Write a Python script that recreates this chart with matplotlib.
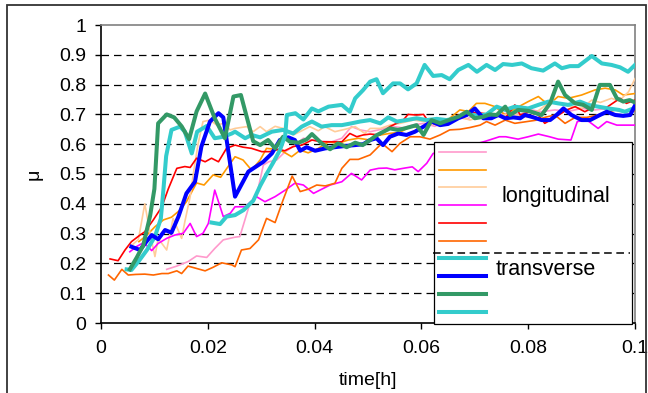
import matplotlib
matplotlib.use('Agg')
import matplotlib.pyplot as plt
from matplotlib.patches import Rectangle

plt.rcParams['font.family'] = ['Liberation Sans', 'DejaVu Sans']

# longitudinal runs (thin lines)
t_pink = [0.0123, 0.0142, 0.0163, 0.0179, 0.0198, 0.0213, 0.0229, 0.0251, 0.0260, 0.0279, 0.0291, 0.0304,
          0.0314, 0.0329, 0.0345, 0.0360, 0.0379, 0.0395, 0.0413, 0.0432, 0.0451, 0.0469, 0.0485, 0.0504,
          0.0525, 0.0545, 0.0565, 0.0585, 0.0605, 0.0625, 0.0645, 0.0665, 0.0685, 0.0705, 0.0725, 0.0745,
          0.0765, 0.0785, 0.0806, 0.0825, 0.0850, 0.0875, 0.0900, 0.0925, 0.0950, 0.0975, 0.1000]
mu_pink = [0.18, 0.191, 0.206, 0.225, 0.22, 0.25, 0.279, 0.288, 0.29, 0.402, 0.424, 0.53,
           0.541, 0.547, 0.575, 0.592, 0.62, 0.614, 0.61, 0.608, 0.62, 0.659, 0.648, 0.642,
           0.65, 0.66, 0.655, 0.665, 0.67, 0.66, 0.675, 0.69, 0.685, 0.70, 0.69, 0.70,
           0.705, 0.70, 0.715, 0.709, 0.715, 0.71, 0.72, 0.715, 0.72, 0.71, 0.715]

t_orange = [0.0071, 0.0086, 0.0101, 0.0117, 0.0132, 0.0148, 0.0160, 0.0179, 0.0193, 0.0210, 0.0224, 0.0238,
            0.0251, 0.0266, 0.0282, 0.0298, 0.0310, 0.0326, 0.0341, 0.0357, 0.0373, 0.0388, 0.0407, 0.0426,
            0.0444, 0.0463, 0.0482, 0.0504, 0.0520, 0.0540, 0.0560, 0.0580, 0.0600, 0.0620, 0.0640, 0.0655,
            0.0672, 0.0688, 0.0703, 0.0719, 0.0738, 0.0757, 0.0776, 0.0800, 0.0819, 0.0838, 0.0856, 0.0875,
            0.0900, 0.0925, 0.0944, 0.0963, 0.0978, 0.1000]
mu_orange = [0.273, 0.295, 0.323, 0.346, 0.355, 0.379, 0.407, 0.47, 0.463, 0.497, 0.489, 0.525,
             0.558, 0.547, 0.513, 0.547, 0.586, 0.583, 0.575, 0.558, 0.58, 0.571, 0.586, 0.608,
             0.603, 0.614, 0.62, 0.614, 0.63, 0.636, 0.64, 0.66, 0.655, 0.67, 0.665, 0.69,
             0.715, 0.71, 0.737, 0.737, 0.726, 0.698, 0.72, 0.743, 0.76, 0.732, 0.76, 0.754,
             0.765, 0.782, 0.788, 0.782, 0.765, 0.77]

t_peach = [0.0057, 0.0070, 0.0082, 0.0092, 0.0101, 0.0107, 0.0123, 0.0135, 0.0151, 0.0157, 0.0167, 0.0173,
           0.0182, 0.0191, 0.0204, 0.0217, 0.0229, 0.0242, 0.0251, 0.0273, 0.0285, 0.0298, 0.0310, 0.0326,
           0.0341, 0.0360, 0.0376, 0.0391, 0.0407, 0.0419, 0.0438, 0.0457, 0.0476, 0.0494, 0.0504, 0.0523,
           0.0541, 0.0560, 0.0585, 0.0610, 0.0635, 0.0655, 0.0675, 0.0691, 0.0710, 0.0730, 0.0753, 0.0775,
           0.0800, 0.0825, 0.0844, 0.0860, 0.0881, 0.0900, 0.0919, 0.0935, 0.0956, 0.0970, 0.0988, 0.1000]
mu_peach = [0.26, 0.28, 0.40, 0.30, 0.223, 0.284, 0.245, 0.351, 0.284, 0.34, 0.424, 0.502,
            0.603, 0.676, 0.681, 0.664, 0.67, 0.648, 0.653, 0.659, 0.642, 0.659, 0.642, 0.66,
            0.653, 0.631, 0.645, 0.659, 0.645, 0.659, 0.642, 0.65, 0.659, 0.636, 0.653, 0.653,
            0.664, 0.67, 0.681, 0.675, 0.67, 0.68, 0.69, 0.681, 0.692, 0.69, 0.698, 0.70,
            0.69, 0.72, 0.748, 0.735, 0.726, 0.72, 0.748, 0.74, 0.754, 0.745, 0.776, 0.82]

t_magenta = [0.0054, 0.0066, 0.0080, 0.0095, 0.0107, 0.0123, 0.0138, 0.0154, 0.0167, 0.0179, 0.0191, 0.0201,
             0.0213, 0.0229, 0.0242, 0.0251, 0.0270, 0.0291, 0.0307, 0.0326, 0.0345, 0.0363, 0.0379, 0.0398,
             0.0410, 0.0429, 0.0451, 0.0469, 0.0488, 0.0504, 0.0520, 0.0535, 0.0550, 0.0569, 0.0583, 0.0594,
             0.0610, 0.0622, 0.0640, 0.0660, 0.0680, 0.0700, 0.0720, 0.0746, 0.0758, 0.0781, 0.0800, 0.0819,
             0.0840, 0.0856, 0.0880, 0.0892, 0.0910, 0.0931, 0.0947, 0.0966, 0.0985, 0.1000]
mu_magenta = [0.239, 0.256, 0.27, 0.243, 0.267, 0.284, 0.295, 0.301, 0.334, 0.29, 0.301, 0.334,
              0.446, 0.357, 0.368, 0.39, 0.39, 0.424, 0.407, 0.424, 0.446, 0.469, 0.463, 0.435,
              0.446, 0.463, 0.474, 0.502, 0.48, 0.513, 0.519, 0.52, 0.514, 0.52, 0.524, 0.508,
              0.536, 0.569, 0.575, 0.58, 0.59, 0.60, 0.61, 0.625, 0.625, 0.617, 0.625, 0.634,
              0.625, 0.617, 0.614, 0.676, 0.681, 0.653, 0.676, 0.664, 0.664, 0.664]

t_red = [0.0017, 0.0032, 0.0045, 0.0057, 0.0073, 0.0082, 0.0098, 0.0114, 0.0126, 0.0142, 0.0157, 0.0167,
         0.0179, 0.0195, 0.0207, 0.0220, 0.0235, 0.0251, 0.0266, 0.0282, 0.0301, 0.0316, 0.0332, 0.0344,
         0.0360, 0.0376, 0.0395, 0.0413, 0.0432, 0.0451, 0.0466, 0.0479, 0.0491, 0.0504, 0.0522, 0.0541,
         0.0566, 0.0575, 0.0591, 0.0604, 0.0613, 0.0625, 0.0641, 0.0653, 0.0669, 0.0685, 0.0697, 0.0713,
         0.0728, 0.0744, 0.0757, 0.0775, 0.0785, 0.0803, 0.0819, 0.0831, 0.0850, 0.0872, 0.0888, 0.0906,
         0.0925, 0.0944, 0.0972, 0.0984, 0.1000]
mu_red = [0.215, 0.209, 0.245, 0.273, 0.295, 0.306, 0.346, 0.39, 0.45, 0.519, 0.525, 0.522,
          0.553, 0.541, 0.553, 0.541, 0.586, 0.597, 0.59, 0.586, 0.575, 0.575, 0.583, 0.578,
          0.592, 0.597, 0.614, 0.608, 0.608, 0.608, 0.636, 0.625, 0.631, 0.634, 0.631, 0.659,
          0.681, 0.70, 0.698, 0.70, 0.676, 0.668, 0.67, 0.681, 0.698, 0.698, 0.706, 0.704,
          0.70, 0.698, 0.687, 0.732, 0.698, 0.709, 0.698, 0.67, 0.69, 0.715, 0.726, 0.709,
          0.726, 0.72, 0.754, 0.737, 0.748]

t_dkorange = [0.0014, 0.0025, 0.0039, 0.0051, 0.0065, 0.0082, 0.0098, 0.0114, 0.0126, 0.0142, 0.0151, 0.0163,
              0.0179, 0.0195, 0.0210, 0.0226, 0.0245, 0.0251, 0.0263, 0.0279, 0.0295, 0.0310, 0.0326, 0.0341,
              0.0358, 0.0373, 0.0388, 0.0404, 0.0420, 0.0438, 0.0451, 0.0466, 0.0482, 0.0504, 0.0526, 0.0545,
              0.0560, 0.0579, 0.0597, 0.0616, 0.0635, 0.0653, 0.0672, 0.0691, 0.0710, 0.0722, 0.0738, 0.0757,
              0.0775, 0.0794, 0.0813, 0.0831, 0.0850, 0.0869, 0.0888, 0.0910, 0.0935, 0.0963, 0.0981, 0.1000]
mu_dkorange = [0.161, 0.144, 0.18, 0.161, 0.163, 0.164, 0.161, 0.166, 0.166, 0.175, 0.166, 0.191,
               0.183, 0.175, 0.187, 0.202, 0.195, 0.189, 0.245, 0.25, 0.279, 0.351, 0.337, 0.413,
               0.493, 0.441, 0.449, 0.463, 0.46, 0.469, 0.519, 0.549, 0.549, 0.564, 0.603, 0.575,
               0.603, 0.625, 0.625, 0.617, 0.631, 0.648, 0.65, 0.656, 0.664, 0.676, 0.664, 0.681,
               0.67, 0.675, 0.68, 0.69, 0.698, 0.67, 0.69, 0.69, 0.70, 0.715, 0.71, 0.712]

# transverse runs (thick lines)
t_turq1 = [0.0048, 0.0057, 0.0070, 0.0086, 0.0101, 0.0112, 0.0117, 0.0122, 0.0132, 0.0148, 0.0157, 0.0170,
           0.0180, 0.0198, 0.0213, 0.0229, 0.0245, 0.0251, 0.0270, 0.0282, 0.0298, 0.0320, 0.0341, 0.0360,
           0.0376, 0.0395, 0.0413, 0.0432, 0.0451, 0.0469, 0.0485, 0.0504, 0.0523, 0.0538, 0.0554, 0.0572,
           0.0591, 0.0610, 0.0629, 0.0647, 0.0666, 0.0685, 0.0704, 0.0722, 0.0741, 0.0757, 0.0775, 0.0800,
           0.0819, 0.0838, 0.0856, 0.0875, 0.0897, 0.0912, 0.0931, 0.0950, 0.0970, 0.0981, 0.0997]
mu_turq1 = [0.18, 0.178, 0.206, 0.245, 0.29, 0.35, 0.45, 0.56, 0.648, 0.659, 0.642, 0.569,
            0.642, 0.661, 0.62, 0.625, 0.636, 0.642, 0.62, 0.631, 0.623, 0.642, 0.648, 0.636,
            0.659, 0.676, 0.659, 0.664, 0.664, 0.67, 0.676, 0.681, 0.67, 0.69, 0.676, 0.681,
            0.687, 0.681, 0.685, 0.681, 0.687, 0.704, 0.695, 0.70, 0.726, 0.715, 0.726, 0.72,
            0.732, 0.743, 0.737, 0.732, 0.743, 0.732, 0.726, 0.72, 0.715, 0.709, 0.72]

t_blue = [0.0057, 0.0073, 0.0085, 0.0095, 0.0107, 0.0120, 0.0132, 0.0145, 0.0160, 0.0176, 0.0188, 0.0204,
          0.0220, 0.0229, 0.0251, 0.0276, 0.0304, 0.0320, 0.0335, 0.0351, 0.0363, 0.0373, 0.0385, 0.0401,
          0.0420, 0.0438, 0.0457, 0.0476, 0.0491, 0.0504, 0.0516, 0.0528, 0.0541, 0.0557, 0.0572, 0.0588,
          0.0604, 0.0619, 0.0635, 0.0650, 0.0669, 0.0685, 0.0700, 0.0716, 0.0731, 0.0744, 0.0757, 0.0772,
          0.0785, 0.0794, 0.0810, 0.0825, 0.0841, 0.0853, 0.0866, 0.0881, 0.0900, 0.0916, 0.0931, 0.0947,
          0.0963, 0.0978, 0.0991, 0.1000]
mu_blue = [0.256, 0.245, 0.273, 0.295, 0.281, 0.312, 0.303, 0.357, 0.435, 0.474, 0.592, 0.676,
           0.704, 0.69, 0.424, 0.508, 0.541, 0.569, 0.614, 0.623, 0.614, 0.578, 0.59, 0.578,
           0.586, 0.59, 0.594, 0.597, 0.60, 0.614, 0.62, 0.597, 0.625, 0.636, 0.631, 0.642,
           0.659, 0.676, 0.664, 0.668, 0.687, 0.698, 0.72, 0.687, 0.687, 0.698, 0.687, 0.69,
           0.687, 0.698, 0.69, 0.681, 0.681, 0.698, 0.72, 0.698, 0.681, 0.681, 0.695, 0.709,
           0.698, 0.695, 0.698, 0.73]

t_green = [0.0054, 0.0067, 0.0079, 0.0092, 0.0100, 0.0107, 0.0123, 0.0137, 0.0151, 0.0165, 0.0179, 0.0195,
           0.0213, 0.0232, 0.0248, 0.0262, 0.0285, 0.0298, 0.0313, 0.0326, 0.0341, 0.0354, 0.0370, 0.0385,
           0.0395, 0.0413, 0.0429, 0.0444, 0.0460, 0.0476, 0.0490, 0.0504, 0.0516, 0.0541, 0.0556, 0.0569,
           0.0591, 0.0604, 0.0619, 0.0635, 0.0650, 0.0669, 0.0685, 0.0700, 0.0716, 0.0728, 0.0741, 0.0757,
           0.0766, 0.0781, 0.0800, 0.0825, 0.0841, 0.0856, 0.0869, 0.0888, 0.0903, 0.0919, 0.0934, 0.0953,
           0.0966, 0.0978, 0.0990, 0.1000]
mu_green = [0.18, 0.22, 0.26, 0.36, 0.45, 0.67, 0.70, 0.69, 0.66, 0.617, 0.71, 0.77,
            0.687, 0.62, 0.76, 0.765, 0.61, 0.597, 0.614, 0.586, 0.625, 0.608, 0.605, 0.616,
            0.634, 0.603, 0.583, 0.603, 0.59, 0.605, 0.597, 0.614, 0.63, 0.653, 0.648, 0.653,
            0.664, 0.631, 0.681, 0.67, 0.68, 0.692, 0.709, 0.687, 0.692, 0.70, 0.698, 0.726,
            0.698, 0.715, 0.712, 0.698, 0.737, 0.81, 0.765, 0.737, 0.732, 0.715, 0.799, 0.799,
            0.754, 0.743, 0.748, 0.74]

t_turq2 = [0.0207, 0.0223, 0.0235, 0.0251, 0.0267, 0.0285, 0.0298, 0.0310, 0.0323, 0.0335, 0.0345, 0.0348,
           0.0364, 0.0379, 0.0395, 0.0407, 0.0426, 0.0451, 0.0466, 0.0476, 0.0491, 0.0504, 0.0516, 0.0528,
           0.0547, 0.0560, 0.0575, 0.0591, 0.0606, 0.0622, 0.0638, 0.0653, 0.0669, 0.0688, 0.0704, 0.0722,
           0.0738, 0.0753, 0.0770, 0.0788, 0.0806, 0.0828, 0.0850, 0.0863, 0.0878, 0.0894, 0.0919, 0.0938,
           0.0956, 0.0972, 0.0987, 0.1000]
mu_turq2 = [0.337, 0.332, 0.357, 0.362, 0.379, 0.41, 0.46, 0.50, 0.54, 0.58, 0.63, 0.698,
            0.704, 0.683, 0.72, 0.71, 0.726, 0.732, 0.709, 0.754, 0.782, 0.81, 0.818, 0.771,
            0.804, 0.804, 0.784, 0.804, 0.866, 0.829, 0.832, 0.818, 0.849, 0.866, 0.843, 0.866,
            0.849, 0.869, 0.866, 0.871, 0.855, 0.847, 0.871, 0.855, 0.862, 0.862, 0.896, 0.871,
            0.866, 0.858, 0.843, 0.866]

longitudinal = [
    (t_pink, mu_pink, '#FF99CC'),
    (t_orange, mu_orange, '#FF9900'),
    (t_peach, mu_peach, '#FFCC99'),
    (t_magenta, mu_magenta, '#FF00FF'),
    (t_red, mu_red, '#FF0000'),
    (t_dkorange, mu_dkorange, '#FF6600'),
]
transverse = [
    (t_turq1, mu_turq1, '#33CCCC'),
    (t_blue, mu_blue, '#0000FF'),
    (t_green, mu_green, '#339966'),
    (t_turq2, mu_turq2, '#33CCCC'),
]

xticks = [0, 0.02, 0.04, 0.06, 0.08, 0.1]
yticks = [0, 0.1, 0.2, 0.3, 0.4, 0.5, 0.6, 0.7, 0.8, 0.9, 1]

fig = plt.figure(figsize=(6.48, 3.93), dpi=100)
ax = fig.add_axes([101 / 648, 1 - 323 / 393, 534 / 648, 298 / 393])

handles = []
for t, mu, c in longitudinal:
    ln, = ax.plot(t, mu, color=c, lw=1.2, zorder=3)
    handles.append(ln)
for t, mu, c in transverse:
    ln, = ax.plot(t, mu, color=c, lw=2.9, zorder=4)
    handles.append(ln)

ax.set_xlim(0, 0.1)
ax.set_ylim(0, 1)
ax.set_xticks(xticks)
ax.set_xticklabels(['0', '0.02', '0.04', '0.06', '0.08', '0.1'])
ax.set_yticks(yticks)
ax.set_yticklabels(['0', '0.1', '0.2', '0.3', '0.4', '0.5', '0.6', '0.7', '0.8', '0.9', '1'])
ax.tick_params(axis='both', direction='out', length=4.5, width=1, labelsize=14, color='black')
ax.tick_params(axis='x', pad=8)
ax.tick_params(axis='y', pad=6)

for y in yticks[1:-1]:
    ax.axhline(y, color='black', lw=0.9, ls=(0, (6, 4)), zorder=1)

for side in ['left', 'bottom']:
    ax.spines[side].set_color('black')
    ax.spines[side].set_linewidth(1.2)
for side in ['top', 'right']:
    ax.spines[side].set_color('#808080')
    ax.spines[side].set_linewidth(1.2)

ax.set_xlabel('time[h]', fontsize=14)
ax.xaxis.set_label_coords(0.5, -0.165)
ax.set_ylabel('μ', fontsize=14)
ax.yaxis.set_label_coords(-0.11, 0.5)

leg = ax.legend(handles, [' '] * len(handles), loc='upper left',
                bbox_to_anchor=(0.624, 0.607, 0.371, 0.0), mode='expand', borderaxespad=0,
                fontsize=9, handlelength=3.7, labelspacing=0.46, borderpad=0.42,
                handletextpad=0.5, frameon=True, fancybox=False, framealpha=1, edgecolor='black')
leg.get_frame().set_linewidth(0.9)
leg.set_zorder(6)

ax.axhline(0.235, xmin=0.622, xmax=0.99, color='black', lw=1.1, ls=(0, (5, 3)), zorder=7)
ax.text(0.75, 0.426, 'longitudinal', transform=ax.transAxes, fontsize=15.5,
        va='center', ha='left', zorder=8)
ax.text(0.739, 0.181, 'transverse', transform=ax.transAxes, fontsize=15.5,
        va='center', ha='left', zorder=8)

# chart border
fig.patches.append(Rectangle((7 / 648, -0.01), 639 / 648, 0.997, transform=fig.transFigure,
                             fill=False, edgecolor='#333333', lw=1.3))

fig.savefig('out.png', dpi=100)
